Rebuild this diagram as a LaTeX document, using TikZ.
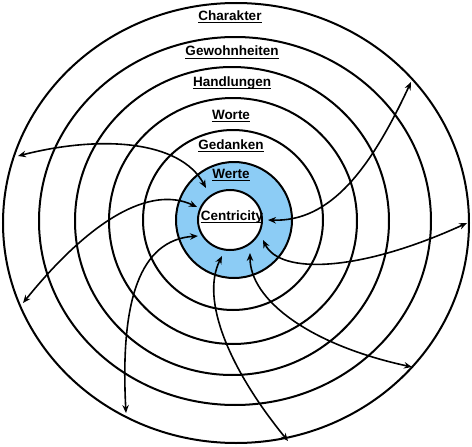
\documentclass[tikz,border=0pt]{standalone}
\usepackage{fontspec}
\setmainfont{Liberation Sans}
\usepackage{tikz}
\usetikzlibrary{arrows.meta}
\definecolor{ringblue}{RGB}{140,204,245}

\begin{document}
\begin{tikzpicture}[x=1pt, y=-1pt,
    ring/.style={line width=2pt, color=black},
    link/.style={line width=1.6pt, color=black, {Stealth[length=8pt,width=6.5pt]}-{Stealth[length=8pt,width=6.5pt]}},
    lbl/.style={font=\fontsize{13.5}{16}\selectfont\bfseries, inner sep=0pt, anchor=base},
    uline/.style={line width=1.4pt, color=black}]

\useasboundingbox (0,0) rectangle (472,447);

\coordinate (c0) at (230,220);
\coordinate (c1) at (234,220);
\coordinate (c2) at (233,220);
\coordinate (c3) at (233,221);
\coordinate (c4) at (232,221);
\coordinate (c5) at (235,221);
\coordinate (c6) at (236,223);

% blue ring
\fill[ringblue] (c1) ellipse [x radius=58, y radius=58];
\fill[white] (c0) ellipse [x radius=32, y radius=30];

\draw[ring] (c0) ellipse [x radius=32, y radius=30];
\draw[ring] (c1) ellipse [x radius=58, y radius=58];
\draw[ring] (c2) ellipse [x radius=90, y radius=90];
\draw[ring] (c3) ellipse [x radius=124, y radius=123];
\draw[ring] (c4) ellipse [x radius=157, y radius=154];
\draw[ring] (c5) ellipse [x radius=196, y radius=184];
\draw[ring] (c6) ellipse [x radius=233, y radius=220];

% arrow ends
\coordinate (p1) at (206,188);
\coordinate (p2) at (197,207);
\coordinate (p3) at (198,236);
\coordinate (p4) at (222,256);
\coordinate (p5) at (250,253);
\coordinate (p6) at (263,240);
\coordinate (p7) at (268,220);
\coordinate (q1) at (18,156);
\coordinate (q2) at (23,303);
\coordinate (q3) at (126,413);
\coordinate (q4) at (288,441);
\coordinate (q5) at (412,367);
\coordinate (q6) at (467,223);
\coordinate (q7) at (411,82);

\draw[link] (q1) .. controls (100,135) and (180,140) .. (p1);
\draw[link] (q2) .. controls (90,220) and (150,185) .. (p2);
\draw[link] (q3) .. controls (120,300) and (140,240) .. (p3);
\draw[link] (p4) .. controls (200,300) and (230,370) .. (q4);
\draw[link] (p5) .. controls (250,300) and (310,345) .. (q5);
\draw[link] (p6) .. controls (280,275) and (360,272) .. (q6);
\draw[link] (p7) .. controls (330,222) and (370,170) .. (q7);

% labels
\node[lbl] (charakter) at (230,20.5) {Charakter};
\node[lbl] (gewohnheiten) at (232,56) {Gewohnheiten};
\node[lbl] (handlungen) at (232,86) {Handlungen};
\node[lbl] (worte) at (231,119) {Worte};
\node[lbl] (gedanken) at (231,149) {Gedanken};
\node[lbl] (werte) at (231,178) {Werte};
\node[lbl] (centricity) at (232,220.5) {Centricity};

\foreach \n in {charakter,gewohnheiten,handlungen,worte,gedanken,werte,centricity} {
    \draw[uline] ([yshift=-2.2pt]\n.base west) -- ([yshift=-2.2pt]\n.base east);
};

\end{tikzpicture}
\end{document}
